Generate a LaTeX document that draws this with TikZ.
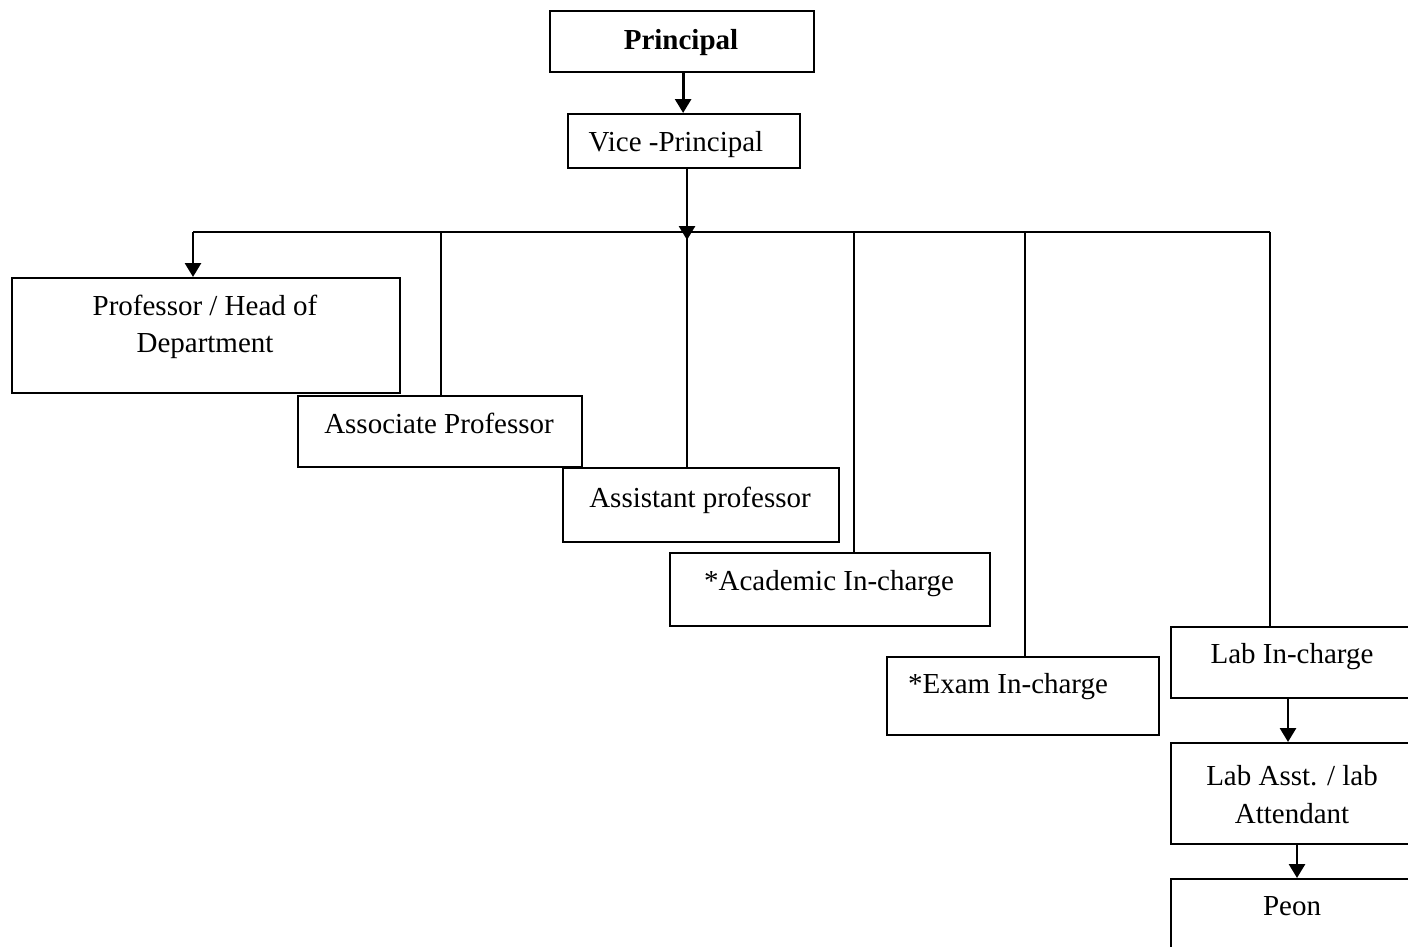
\documentclass[tikz,border=0pt]{standalone}
\usepackage{fontspec}
\setmainfont{Liberation Serif}
\usetikzlibrary{arrows.meta, positioning, calc}

\begin{document}
\begin{tikzpicture}[x=0.02cm, y=-0.02cm]
    \tikzset{
        box/.style={rectangle, draw=black, line width=1.3pt, anchor=north west, inner sep=0pt},
        boxtext/.style={anchor=base, inner sep=0pt, font=\fontsize{16.5}{20}\selectfont},
        link/.style={line width=1.6pt},
        arr/.style={line width=1.6pt, -{Triangle[width=0.32cm, length=0.28cm]}},
    }
    \useasboundingbox (0,0) rectangle (1408,946);

    % Boxes
    \node[box, minimum width=5.28cm, minimum height=1.22cm] (princ) at (549,10) {};
    \node[box, minimum width=4.64cm, minimum height=1.08cm] (vice) at (567,113) {};
    \node[box, minimum width=7.76cm, minimum height=2.30cm] (prof) at (11,277) {};
    \node[box, minimum width=5.68cm, minimum height=1.42cm] (assoc) at (297,395) {};
    \node[box, minimum width=5.52cm, minimum height=1.48cm] (assist) at (562,467) {};
    \node[box, minimum width=6.40cm, minimum height=1.46cm] (acad) at (669,552) {};
    \node[box, minimum width=5.44cm, minimum height=1.56cm] (exam) at (886,656) {};
    \node[box, minimum width=4.90cm, minimum height=1.42cm] (labin) at (1170,626) {};
    \node[box, minimum width=4.90cm, minimum height=2.02cm] (labasst) at (1170,742) {};
    \node[box, minimum width=4.90cm, minimum height=1.60cm] (peon) at (1170,878) {};

    % Texts
    \node[boxtext, font=\fontsize{16.5}{20}\selectfont\bfseries] (tprinc) at (681,50) {Principal};
    \node[boxtext] (tvice) at (676,151) {Vice -Principal};
    \node[boxtext] (tprof1) at (205,315) {Professor / Head of};
    \node[boxtext] (tprof2) at (205,352) {Department};
    \node[boxtext] (tassoc) at (439,433) {Associate Professor};
    \node[boxtext] (tassist) at (700,507) {Assistant professor};
    \node[boxtext] (tacad) at (829,590) {*Academic In-charge};
    \node[boxtext] (texam) at (1008,693) {*Exam In-charge};
    \node[boxtext] (tlabin) at (1292,663) {Lab In-charge};
    \node[boxtext] (tlabasst1) at (1292,785) {Lab Asst. / lab};
    \node[boxtext] (tlabasst2) at (1292,823) {Attendant};
    \node[boxtext] (tpeon) at (1292,915) {Peon};

    % Bus and drop points
    \coordinate (top) at (687,232);
    \coordinate (d1) at (193,232);
    \coordinate (d2) at (441,232);
    \coordinate (d4) at (854,232);
    \coordinate (d5) at (1025,232);
    \coordinate (d6) at (1270,232);
    \coordinate (l1) at (1288,0);
    \coordinate (l2) at (1297,0);

    % Connectors
    \draw[arr] ([xshift=0.02cm]princ.south) -- ([xshift=0.02cm]princ.south |- vice.north);
    \draw[arr] (top |- vice.south) -- ([yshift=-0.16cm]top);
    \draw[link] (d1) -- (d6);
    \draw[arr] (d1) -- (d1 |- prof.north);
    \draw[link] (d2) -- (d2 |- assoc.north);
    \draw[link] (top) -- (top |- assist.north);
    \draw[link] (d4) -- (d4 |- acad.north);
    \draw[link] (d5) -- (d5 |- exam.north);
    \draw[link] (d6) -- (d6 |- labin.north);
    \draw[arr] (l1 |- labin.south) -- (l1 |- labasst.north);
    \draw[arr] (l2 |- labasst.south) -- (l2 |- peon.north);
\end{tikzpicture}
\end{document}
